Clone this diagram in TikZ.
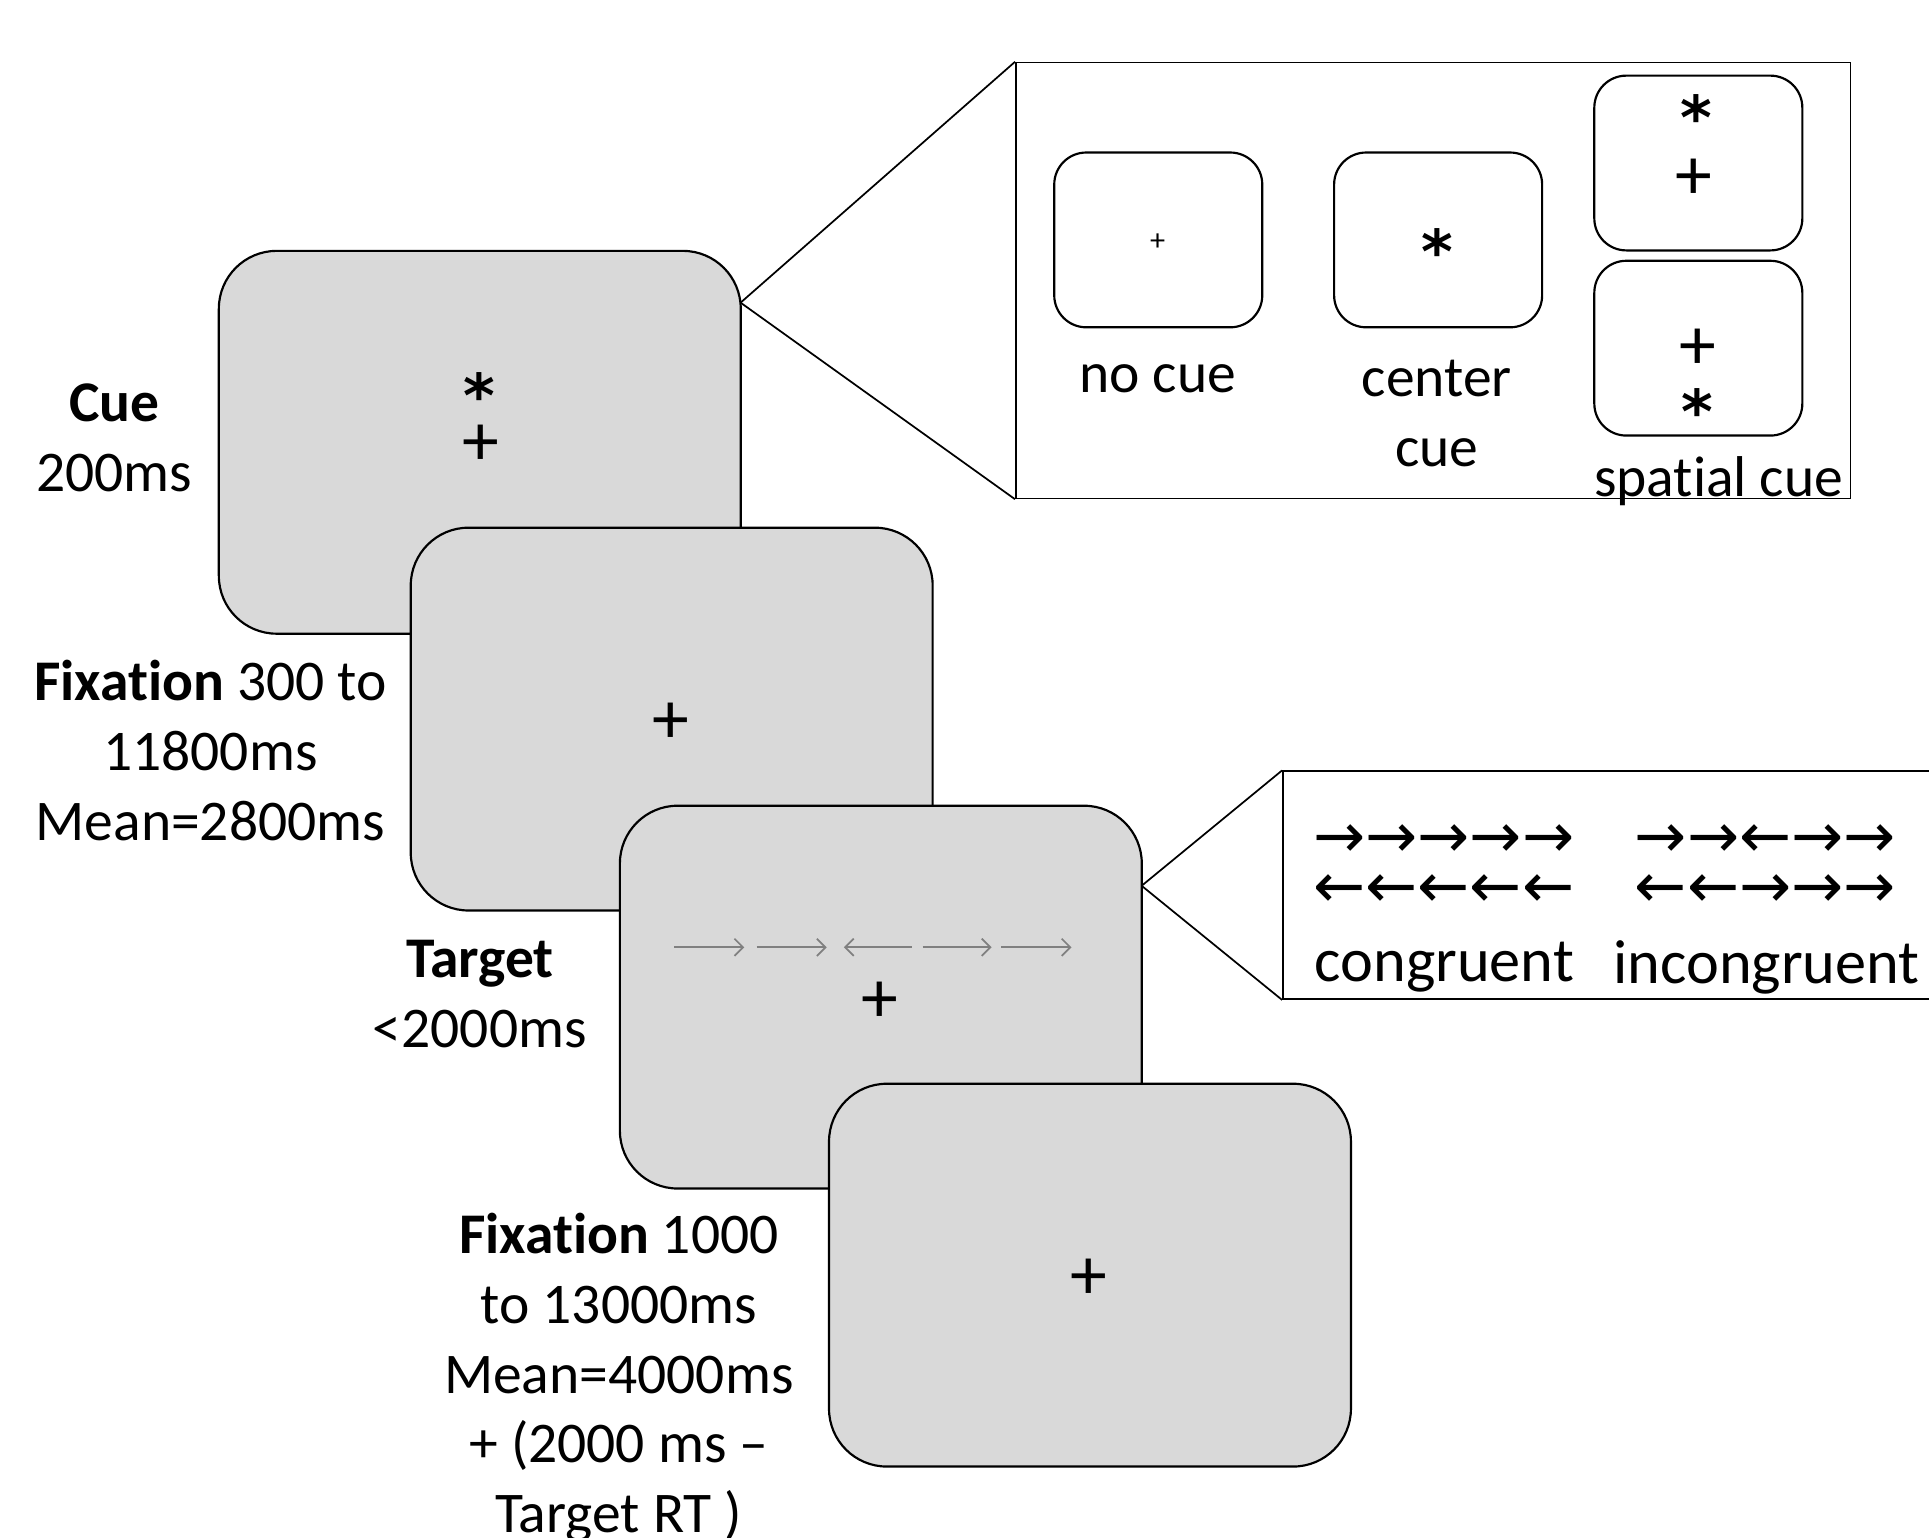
\documentclass[tikz,border=0pt]{standalone}
\usepackage{fontspec}
\setmainfont{Carlito}[Ligatures={TeX,NoCommon}]
\newfontfamily\symfont{DejaVu Sans}
\usetikzlibrary{arrows.meta}
\definecolor{screengray}{HTML}{D9D9D9}
\definecolor{arrowgray}{HTML}{808080}
\tikzset{
  screen/.style={draw, fill=screengray, line width=0.5pt, rounded corners=0.47cm,
    minimum width=4.24cm, minimum height=3.11cm, inner sep=0pt},
  cuescreen/.style={draw, line width=0.5pt, rounded corners=0.26cm,
    minimum width=1.69cm, minimum height=1.42cm, inner sep=0pt},
  zoombox/.style={draw, line width=0.4pt, inner sep=0pt},
  zoomline/.style={line width=0.4pt},
  fix/.style={inner sep=0pt, font=\fontsize{17}{17}\selectfont},
  star/.style={inner sep=0pt, font=\symfont\bfseries\fontsize{14}{14}\selectfont},
  timing/.style={inner sep=0pt, align=center, font=\fontsize{13.3}{16.1}\selectfont},
  flank/.style={inner sep=0pt, align=center, font=\symfont\fontsize{14.4}{11.6}\selectfont},
  flanklabel/.style={inner sep=0pt, font=\fontsize{14.4}{16}\selectfont},
  tarrow/.style={draw=arrowgray, line width=0.4pt, -{Straight Barb[length=0.7mm,width=1.4mm]}}
}
\begin{document}
\begin{tikzpicture}[x=0.01cm, y=-0.01cm]
  \useasboundingbox (0,0) rectangle (1568,1250);
  % cue screen
  \node[screen] (cue) at (390,359.5) {};
  \node[star] (cuestar) at (390,321) {*};
  \node[fix] (cueplus) at (391,362) {+};
  \node[timing] (cuetime) at (93,356) {\textbf{Cue}\\200ms};
  % fixation screen
  \node[screen] (fixa) at (546,584.5) {};
  \node[fix] (fixaplus) at (545,588) {+};
  \node[timing] (fixatime) at (171,610)
    {\textbf{Fixation} 300 to\\11800ms\\Mean=2800ms};
  % target screen
  \node[screen] (target) at (716,810.5) {};
  \foreach \a/\b in {548/605, 615/672, 741/686, 750/806, 814/871}{
    \draw[tarrow] (\a,770) -- (\b,770);
  }
  \node[fix] (targetplus) at (715,815) {+};
  \node[timing] (targettime) at (390,808) {\textbf{Target}\\<2000ms};
  % fixation after target
  \node[screen] (fixb) at (886,1036.5) {};
  \node[fix] (fixbplus) at (885,1040) {+};
  \node[timing] (fixbtime) at (503,1120)
    {\textbf{Fixation} 1000\\to 13000ms\\Mean=4000ms\\+ (2000 ms --\\Target RT )};
  % cue types
  \node[zoombox] (cuebox) at (1165,228) [minimum width=6.78cm, minimum height=3.54cm] {};
  \coordinate (cuetip) at (602,246);
  \draw[zoomline] (cuetip) -- (cuebox.north west);
  \draw[zoomline] (cuetip) -- (cuebox.south west);
  \node[cuescreen] (nocue) at (941.5,195) {};
  \node[fix, font=\fontsize{7}{7}\selectfont] (nocueplus) at (941,197) {+};
  \node[cuescreen] (centercue) at (1169,195) {};
  \node[star] (centerstar) at (1168,204) {*};
  \node[cuescreen] (spatialup) at (1380.5,132.5) {};
  \node[star] (upstar) at (1379,95) {*};
  \node[fix] (upplus) at (1377,146) {+};
  \node[cuescreen] (spatialdown) at (1380.5,283) {};
  \node[fix] (downplus) at (1380,284) {+};
  \node[star] (downstar) at (1380,334) {*};
  \node[timing] (nocuelbl) at (941,308) {no cue};
  \node[timing] (centerlbl) at (1168,336) {center\\cue};
  \node[timing] (spatiallbl) at (1397,391) {spatial cue};
  % flanker types
  \node[zoombox] (flankbox) at (1323,719.5) [minimum width=5.6cm, minimum height=1.85cm] {};
  \coordinate (targettip) at (928,720);
  \draw[zoomline] (targettip) -- (flankbox.north west);
  \draw[zoomline] (targettip) -- (flankbox.south west);
  \node[flank] (congarrows) at (1173.5,704) {→→→→→\\←←←←←};
  \node[flank] (incongarrows) at (1435,704) {→→←→→\\←←→→→};
  \node[flanklabel] (conglbl) at (1174,786) {congruent};
  \node[flanklabel] (inconglbl) at (1436,786) {incongruent};
\end{tikzpicture}
\end{document}
